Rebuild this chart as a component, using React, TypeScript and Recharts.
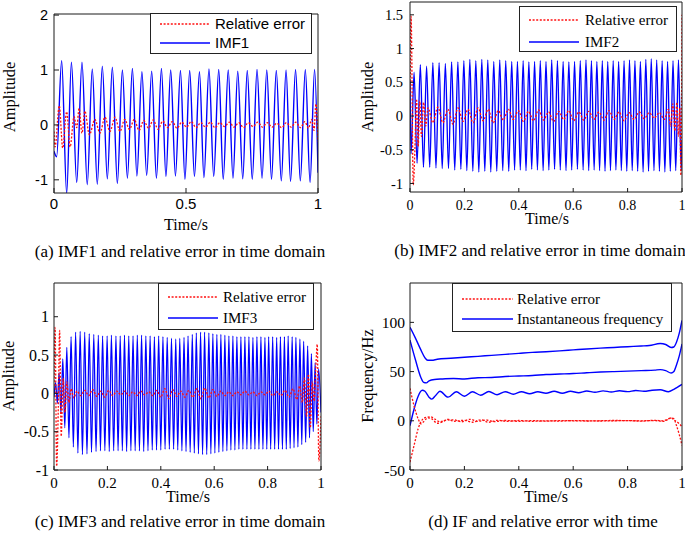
import React from 'react';
import { LineChart, Line, XAxis, YAxis } from 'recharts';

const SERIF = '"Liberation Serif", "Times New Roman", serif';
const SANS = '"Liberation Sans", Arial, sans-serif';
const BLUE = '#0000ff';
const RED = '#ff1010';

type P = [number, number];

// ---------- Panel (a): IMF1 ----------
const imf1Peaks: P[] = [
  [0.029, 1.17], [0.066, 1.14], [0.106, 1.14], [0.145, 1.02], [0.183, 1.07], [0.221, 1.05],
  [0.259, 1.0], [0.297, 1.03], [0.333, 0.97], [0.37, 0.98], [0.407, 1.03], [0.442, 1.0],
  [0.479, 0.99], [0.514, 0.99], [0.551, 0.97], [0.587, 1.02], [0.624, 1.01], [0.66, 1.0],
  [0.696, 0.98], [0.732, 0.99], [0.769, 1.01], [0.806, 1.0], [0.842, 0.99], [0.879, 1.0],
  [0.915, 1.01], [0.952, 1.01], [0.987, 1.01],
];
const imf1Troughs: P[] = [
  [0, -0.48], [0.01, -0.58], [0.048, -1.25], [0.086, -1.05], [0.126, -1.09], [0.164, -1.08],
  [0.202, -0.98], [0.24, -1.07], [0.278, -0.97], [0.314, -0.93], [0.351, -0.92], [0.388, -0.97],
  [0.424, -0.94], [0.46, -0.93], [0.496, -0.99], [0.532, -0.94], [0.568, -0.96], [0.605, -0.94],
  [0.641, -0.99], [0.678, -0.97], [0.715, -0.98], [0.751, -0.99], [0.788, -0.97], [0.824, -0.99],
  [0.861, -1.02], [0.896, -1.03], [0.933, -1.02], [0.97, -1.05], [1.0, -0.87],
];
const err1Points: P[] = [
  [0, -0.12], [0.004, -0.4], [0.02, 0.35], [0.033, -0.42], [0.048, 0.24], [0.061, -0.4],
  [0.076, 0.15], [0.086, -0.05], [0.095, 0.3], [0.106, -0.15], [0.117, 0.25], [0.134, -0.18],
  [0.155, 0.1], [0.174, -0.15], [0.193, 0.14], [0.212, -0.12], [0.231, 0.14], [0.25, -0.12],
  [0.268, 0.1], [0.286, -0.08], [0.304, 0.1], [0.322, -0.1], [0.34, 0.08], [0.358, -0.06],
  [0.376, 0.09], [0.394, -0.08], [0.412, 0.07], [0.43, -0.05], [0.448, 0.06], [0.466, -0.06],
  [0.484, 0.05], [0.502, -0.04], [0.52, 0.06], [0.538, -0.05], [0.556, 0.04], [0.574, -0.04],
  [0.592, 0.05], [0.61, -0.05], [0.628, 0.04], [0.646, -0.03], [0.664, 0.05], [0.682, -0.04],
  [0.7, 0.04], [0.718, -0.05], [0.736, 0.04], [0.754, -0.03], [0.772, 0.05], [0.79, -0.04],
  [0.808, 0.04], [0.826, -0.04], [0.844, 0.03], [0.862, -0.05], [0.88, 0.04], [0.898, -0.04],
  [0.916, 0.05], [0.934, -0.05], [0.95, 0.06], [0.964, -0.06], [0.976, 0.1], [0.985, -0.1],
  [0.992, 0.38], [1.0, -0.3],
];

// ---------- Panel (b): IMF2 ----------
const imf2Peaks: P[] = [
  [0, 0.52], [0.015, 0.65], [0.038, 0.76], [0.061, 0.74], [0.084, 0.79], [0.107, 0.79], [0.13, 0.78],
  [0.153, 0.8], [0.176, 0.8], [0.198, 0.82], [0.22, 0.84], [0.242, 0.82], [0.264, 0.84],
  [0.286, 0.83], [0.308, 0.81], [0.33, 0.83], [0.352, 0.82], [0.374, 0.81], [0.395, 0.81],
  [0.416, 0.82], [0.437, 0.8], [0.458, 0.81], [0.479, 0.82], [0.5, 0.81], [0.521, 0.83],
  [0.542, 0.82], [0.563, 0.81], [0.584, 0.8], [0.605, 0.81], [0.626, 0.82], [0.647, 0.83],
  [0.667, 0.82], [0.687, 0.81], [0.707, 0.82], [0.727, 0.81], [0.747, 0.82], [0.767, 0.81],
  [0.787, 0.82], [0.807, 0.83], [0.827, 0.82], [0.847, 0.81], [0.867, 0.84], [0.887, 0.85],
  [0.907, 0.83], [0.927, 0.82], [0.947, 0.81], [0.967, 0.82], [0.987, 0.83],
];
const imf2Troughs: P[] = [
  [0.004, -0.56], [0.026, -0.7], [0.0495, -0.76], [0.0725, -0.76], [0.0955, -0.77], [0.1185, -0.78],
  [0.1415, -0.78], [0.1645, -0.8], [0.187, -0.79], [0.209, -0.81], [0.231, -0.82], [0.253, -0.83],
  [0.275, -0.82], [0.297, -0.83], [0.319, -0.82], [0.341, -0.81], [0.363, -0.82], [0.3845, -0.8],
  [0.4055, -0.8], [0.4265, -0.81], [0.4475, -0.79], [0.4685, -0.8], [0.4895, -0.81], [0.5105, -0.8],
  [0.5315, -0.79], [0.5525, -0.8], [0.5735, -0.81], [0.5945, -0.8], [0.6155, -0.79], [0.6365, -0.8],
  [0.657, -0.81], [0.677, -0.8], [0.697, -0.81], [0.717, -0.82], [0.737, -0.81], [0.757, -0.8],
  [0.777, -0.81], [0.797, -0.82], [0.817, -0.81], [0.837, -0.82], [0.857, -0.83], [0.877, -0.82],
  [0.897, -0.81], [0.917, -0.82], [0.937, -0.83], [0.957, -0.82], [0.977, -0.81], [0.997, -0.8],
  [1.0, -0.35],
];
const err2Points: P[] = [
  [0, 0.3], [0.004, 1.48], [0.012, -1.02], [0.018, -0.5], [0.024, 0.25], [0.03, -0.45],
  [0.036, 0.22], [0.042, -0.3], [0.05, 0.2], [0.058, -0.15], [0.066, 0.12], [0.084, -0.1],
  [0.1025, 0.13], [0.121, -0.1], [0.1395, 0.1], [0.158, -0.12], [0.1765, 0.12], [0.195, -0.08],
  [0.2135, 0.1], [0.232, -0.1], [0.2505, 0.12], [0.269, -0.07], [0.2875, 0.1], [0.306, -0.1],
  [0.3245, 0.08], [0.343, -0.06], [0.3615, 0.1], [0.38, -0.05], [0.3985, 0.08], [0.417, -0.08],
  [0.4355, 0.07], [0.454, -0.07], [0.4725, 0.09], [0.491, -0.06], [0.5095, 0.06], [0.528, -0.08],
  [0.5465, 0.07], [0.565, -0.05], [0.5835, 0.08], [0.602, -0.07], [0.6205, 0.06], [0.639, -0.06],
  [0.6575, 0.07], [0.676, -0.05], [0.6945, 0.06], [0.713, -0.06], [0.7315, 0.08], [0.75, -0.05],
  [0.7685, 0.06], [0.787, -0.07], [0.8055, 0.05], [0.824, -0.05], [0.8425, 0.06], [0.861, -0.04],
  [0.8795, 0.05], [0.898, -0.03], [0.9165, 0.05], [0.935, -0.05], [0.95, 0.1], [0.958, -0.15],
  [0.966, 0.18], [0.974, -0.22], [0.981, 0.2], [0.987, -0.3], [0.992, 0.12], [0.996, -0.88],
  [1.0, 1.5],
];

// ---------- Panel (c): IMF3 ----------
const imf3Peaks: P[] = [
  [0, -0.05], [0.006, 0.14], [0.019, 0.27], [0.033, 0.45], [0.048, 0.6], [0.064, 0.74], [0.081, 0.8],
  [0.098, 0.81], [0.115, 0.8], [0.132, 0.78], [0.149, 0.77], [0.166, 0.76], [0.182, 0.75],
  [0.199, 0.75], [0.215, 0.76], [0.232, 0.75], [0.248, 0.75], [0.264, 0.76], [0.28, 0.75],
  [0.296, 0.75], [0.312, 0.76], [0.328, 0.76], [0.344, 0.75], [0.36, 0.75], [0.376, 0.74],
  [0.392, 0.75], [0.408, 0.74], [0.424, 0.73], [0.44, 0.72], [0.456, 0.71], [0.471, 0.72],
  [0.487, 0.73], [0.502, 0.75], [0.518, 0.77], [0.533, 0.79], [0.549, 0.8], [0.564, 0.8],
  [0.58, 0.79], [0.595, 0.78], [0.61, 0.77], [0.625, 0.77], [0.64, 0.76], [0.655, 0.75],
  [0.67, 0.75], [0.685, 0.74], [0.7, 0.74], [0.715, 0.74], [0.73, 0.74], [0.745, 0.73],
  [0.76, 0.74], [0.775, 0.74], [0.79, 0.73], [0.804, 0.74], [0.819, 0.74], [0.834, 0.73],
  [0.848, 0.74], [0.863, 0.74], [0.877, 0.75], [0.892, 0.74], [0.906, 0.73], [0.921, 0.71],
  [0.935, 0.68], [0.95, 0.62], [0.964, 0.52], [0.978, 0.4], [0.991, 0.32],
];
const imf3Troughs: P[] = [
  [0.0125, -0.13], [0.026, -0.26], [0.0405, -0.45], [0.056, -0.58], [0.0725, -0.7], [0.0895, -0.78],
  [0.1065, -0.8], [0.1235, -0.79], [0.1405, -0.77], [0.1575, -0.76], [0.174, -0.75], [0.1905, -0.75],
  [0.207, -0.76], [0.2235, -0.75], [0.24, -0.75], [0.256, -0.75], [0.272, -0.76], [0.288, -0.75],
  [0.304, -0.75], [0.32, -0.75], [0.336, -0.76], [0.352, -0.75], [0.368, -0.74], [0.384, -0.74],
  [0.4, -0.74], [0.416, -0.73], [0.432, -0.73], [0.448, -0.73], [0.4635, -0.74], [0.479, -0.75],
  [0.4945, -0.76], [0.51, -0.77], [0.5255, -0.78], [0.541, -0.79], [0.5565, -0.8], [0.572, -0.8],
  [0.5875, -0.79], [0.6025, -0.78], [0.6175, -0.77], [0.6325, -0.76], [0.6475, -0.75], [0.6625, -0.74],
  [0.6775, -0.74], [0.6925, -0.73], [0.7075, -0.73], [0.7225, -0.73], [0.7375, -0.73], [0.7525, -0.73],
  [0.7675, -0.73], [0.7825, -0.73], [0.797, -0.73], [0.8115, -0.73], [0.8265, -0.73], [0.841, -0.73],
  [0.8555, -0.73], [0.87, -0.73], [0.8845, -0.72], [0.899, -0.71], [0.9135, -0.7], [0.928, -0.67],
  [0.9425, -0.64], [0.957, -0.58], [0.971, -0.5], [0.9845, -0.4], [1.0, -0.25],
];
const err3Points: P[] = [
  [0, 0.1], [0.004, 0.86], [0.01, -0.95], [0.016, -0.2], [0.021, 0.82], [0.027, -0.56],
  [0.034, 0.2], [0.041, -0.25], [0.048, 0.15], [0.056, -0.12], [0.064, 0.06], [0.074, -0.06],
  [0.086, 0.03], [0.1, -0.03], [0.115, 0.04], [0.13, -0.03], [0.145, 0.05], [0.16, -0.04],
  [0.175, 0.03], [0.19, -0.05], [0.205, 0.04], [0.22, -0.03], [0.235, 0.03], [0.25, -0.02],
  [0.265, 0.03], [0.28, -0.03], [0.295, 0.02], [0.31, -0.03], [0.325, 0.03], [0.34, -0.02],
  [0.355, 0.02], [0.37, -0.03], [0.385, 0.04], [0.4, -0.05], [0.415, 0.06], [0.43, -0.07],
  [0.445, 0.05], [0.46, -0.04], [0.475, 0.03], [0.49, -0.05], [0.505, 0.04], [0.52, -0.05],
  [0.535, 0.06], [0.55, -0.07], [0.565, 0.07], [0.58, -0.06], [0.595, 0.05], [0.61, -0.04],
  [0.625, 0.03], [0.64, -0.03], [0.655, 0.02], [0.67, -0.03], [0.685, 0.02], [0.7, -0.02],
  [0.715, 0.03], [0.73, -0.02], [0.745, 0.02], [0.76, -0.03], [0.775, 0.02], [0.79, -0.02],
  [0.805, 0.03], [0.82, -0.03], [0.835, 0.02], [0.85, -0.03], [0.865, 0.04], [0.88, -0.05],
  [0.895, 0.06], [0.91, -0.08], [0.92, 0.1], [0.93, -0.12], [0.938, 0.2], [0.946, -0.3],
  [0.953, 0.25], [0.96, -0.45], [0.967, 0.15], [0.974, -0.1], [0.98, 0.3], [0.986, 0.64],
  [0.992, -0.88], [1.0, -0.3],
];

// ---------- Panel (d): instantaneous frequency ----------
const ifHigh: P[] = [
  [0, 95], [0.02, 84], [0.04, 72], [0.055, 64], [0.065, 61.5], [0.08, 61.5], [0.1, 62.5],
  [0.15, 63.5], [0.2, 64.5], [0.25, 65.5], [0.3, 66.5], [0.35, 67.5], [0.4, 68.5], [0.45, 69.5],
  [0.5, 70.2], [0.55, 71], [0.6, 72], [0.65, 73], [0.7, 73.8], [0.75, 74.5], [0.8, 75.3],
  [0.85, 76], [0.88, 76.5], [0.92, 78.5], [0.94, 77.5], [0.96, 74.5], [0.97, 75], [0.98, 80],
  [0.99, 89], [1.0, 102],
];
const ifMid: P[] = [
  [0, 82], [0.02, 62], [0.04, 44], [0.05, 39], [0.06, 38.5], [0.07, 40.5], [0.09, 42],
  [0.12, 42.5], [0.16, 43], [0.2, 42.5], [0.25, 43.8], [0.3, 44], [0.35, 45], [0.4, 45.5],
  [0.45, 46], [0.5, 47], [0.55, 47.5], [0.6, 48], [0.65, 48.8], [0.7, 49.5], [0.75, 50],
  [0.8, 50.5], [0.85, 51], [0.9, 51.5], [0.92, 52], [0.94, 51], [0.96, 48.5], [0.97, 50],
  [0.98, 57], [0.99, 66], [1.0, 78],
];
const ifLow: P[] = [
  [0, -5], [0.015, 12], [0.03, 25], [0.045, 31], [0.055, 30], [0.07, 24], [0.08, 22],
  [0.095, 26], [0.11, 30], [0.14, 24], [0.17, 29.5], [0.2, 25], [0.23, 29.5], [0.26, 26],
  [0.29, 29.8], [0.32, 26.5], [0.35, 29.5], [0.38, 27], [0.41, 29.5], [0.44, 27.5], [0.47, 29.5],
  [0.5, 28], [0.53, 30], [0.56, 28], [0.59, 30], [0.62, 28.5], [0.65, 30.2], [0.68, 29],
  [0.71, 30.4], [0.74, 29.3], [0.77, 30.5], [0.8, 29.6], [0.83, 30.8], [0.86, 30], [0.89, 31],
  [0.92, 31.5], [0.95, 29.5], [0.97, 32], [1.0, 37],
];
const ifErrA: P[] = [
  [0, 33], [0.015, 15], [0.03, 2], [0.04, -3], [0.05, -1], [0.065, 3], [0.08, 2], [0.1, -2.5],
  [0.12, -1], [0.14, 1.5], [0.16, -0.5], [0.2, 0.5], [0.23, -1.5], [0.26, 1], [0.29, -1.5],
  [0.32, 0.5], [0.36, -0.5], [0.4, 0.3], [0.45, -0.5], [0.5, 0], [0.55, -0.3], [0.6, 0.2],
  [0.7, -0.2], [0.8, 0.2], [0.85, -0.3], [0.9, 0.5], [0.93, 0], [0.95, 2], [0.96, 3], [0.97, 1],
  [0.99, -3], [1.0, -6],
];
const ifErrB: P[] = [
  [0, -42], [0.015, -25], [0.03, -8], [0.045, 1], [0.06, 3.5], [0.075, 4], [0.09, 2], [0.11, -1],
  [0.13, 0.5], [0.16, 1], [0.19, -1], [0.22, 1.5], [0.25, -0.5], [0.28, 0.8], [0.31, -0.8],
  [0.35, 0.3], [0.4, -0.5], [0.45, 0.2], [0.5, -0.3], [0.55, 0.2], [0.65, -0.2], [0.75, 0.3],
  [0.85, 0], [0.9, 0.2], [0.93, -0.5], [0.95, 1.5], [0.96, 3], [0.97, 2], [0.98, -5], [0.99, -14],
  [1.0, -25],
];

const xTicksA = [0, 0.5, 1];
const xTicks = [0, 0.2, 0.4, 0.6, 0.8, 1];
const yTicksA = [-1, 0, 1, 2];
const yTicksBC = [-1, -0.5, 0, 0.5, 1, 1.5];
const yTicksC = [-1, -0.5, 0, 0.5, 1];
const yTicksD = [-50, 0, 50, 100];

const toRows = (...lists: P[][]) =>
  lists.flat().slice().sort((a, b) => a[0] - b[0]).map(([t, v]) => ({ t, v }));

type Series = { data: { t: number; v: number }[]; color: string; width: number; dash?: string };

type PanelProps = {
  x: number; y: number; w: number; h: number;
  m: { top: number; right: number; bottom: number; left: number };
  topH: number; leftW: number; rightW: number; bottomH: number;
  xt: number[]; yt: number[]; yDomain: [number, number];
  font: string; fsX: number; fsY: number; xTM: number; yTM: number; tickLen: number;
  series: Series[];
};

function Panel(p: PanelProps) {
  const tickStyleX = { fill: '#000', fontSize: p.fsX, fontFamily: p.font };
  const tickStyleY = { fill: '#000', fontSize: p.fsY, fontFamily: p.font };
  return (
    <div style={{ position: 'absolute', left: p.x, top: p.y, width: p.w, height: p.h }}>
      <LineChart width={p.w} height={p.h} margin={p.m}>
        <XAxis xAxisId="b" type="number" dataKey="t" domain={[0, 1]} ticks={p.xt} interval={0}
          orientation="bottom" height={p.bottomH} tickSize={-p.tickLen} tickMargin={p.xTM}
          allowDataOverflow stroke="#1a1a1a" tick={tickStyleX} />
        <XAxis xAxisId="t" type="number" dataKey="t" domain={[0, 1]} ticks={p.xt} interval={0}
          orientation="top" height={p.topH} tickSize={-p.tickLen} tick={false}
          allowDataOverflow stroke="#1a1a1a" />
        <YAxis yAxisId="l" type="number" domain={p.yDomain} ticks={p.yt} interval={0}
          orientation="left" width={p.leftW} tickSize={-p.tickLen} tickMargin={p.yTM}
          allowDataOverflow stroke="#1a1a1a" tick={tickStyleY} />
        <YAxis yAxisId="r" type="number" domain={p.yDomain} ticks={p.yt} interval={0}
          orientation="right" width={p.rightW} tickSize={-p.tickLen} tick={false}
          allowDataOverflow stroke="#1a1a1a" />
        {p.series.map((s, i) => (
          <Line key={i} xAxisId="b" yAxisId="l" data={s.data} dataKey="v" type="monotone"
            stroke={s.color} strokeWidth={s.width} strokeDasharray={s.dash}
            dot={false} activeDot={false} isAnimationActive={false} />
        ))}
      </LineChart>
    </div>
  );
}

type LegendProps = {
  x: number; y: number; w: number; h: number; rows: [number, number];
  lineX: [number, number]; textX: number; font: string; fs: number; labels: [string, string];
};

function LegendBox(l: LegendProps) {
  const row = (cy: number, label: string, color: string, dash?: string) => (
    <React.Fragment key={label}>
      <svg style={{ position: 'absolute', left: l.lineX[0] - l.x, top: cy - l.y - 3 }} width={l.lineX[1] - l.lineX[0]} height={6}>
        <line x1={0} y1={3} x2={l.lineX[1] - l.lineX[0]} y2={3} stroke={color} strokeWidth={1.3} strokeDasharray={dash} />
      </svg>
      <div style={{ position: 'absolute', left: l.textX - l.x, top: cy - l.y - 10, height: 20, lineHeight: '20px', fontFamily: l.font, fontSize: l.fs, color: '#000', whiteSpace: 'nowrap' }}>
        {label}
      </div>
    </React.Fragment>
  );
  return (
    <div style={{ position: 'absolute', left: l.x, top: l.y, width: l.w, height: l.h, boxSizing: 'border-box', border: '1px solid #222', background: '#fff' }}>
      <div style={{ position: 'absolute', left: -1, top: -1 }}>
        {row(l.rows[0], l.labels[0], RED, '2 1.6')}
        {row(l.rows[1], l.labels[1], BLUE)}
      </div>
    </div>
  );
}

function Txt({ x, y, text, fs, rotate, font }: { x: number; y: number; text: string; fs: number; rotate?: boolean; font?: string }) {
  return (
    <div style={{
      position: 'absolute', left: x, top: y, whiteSpace: 'nowrap', fontFamily: font || SERIF, fontSize: fs,
      color: '#000', lineHeight: 1, transform: `translate(-50%, -50%)${rotate ? ' rotate(-90deg)' : ''}`,
    }}>{text}</div>
  );
}

export default function App() {
  const dataA1 = toRows(imf1Peaks, imf1Troughs);
  const dataA2 = toRows(err1Points);
  const dataB1 = toRows(imf2Peaks, imf2Troughs);
  const dataB2 = toRows(err2Points);
  const dataC1 = toRows(imf3Peaks, imf3Troughs);
  const dataC2 = toRows(err3Points);
  const dHigh = toRows(ifHigh);
  const dMid = toRows(ifMid);
  const dLow = toRows(ifLow);
  const dEA = toRows(ifErrA);
  const dEB = toRows(ifErrB);

  return (
    <div style={{ position: 'absolute', left: 0, top: 0, width: 685, height: 535, background: '#fff', overflow: 'hidden' }}>
      <Panel x={0} y={0} w={340} h={260} m={{ top: 4, right: 2, bottom: 2, left: 4 }}
        topH={10} leftW={50} rightW={20} bottomH={65}
        xt={xTicksA} yt={yTicksA} yDomain={[-1.24, 2.02]} font={SANS} fsX={15} fsY={14.5}
        xTM={10} yTM={11} tickLen={5}
        series={[
          { data: dataA1, color: BLUE, width: 1.4 },
          { data: dataA2, color: RED, width: 1.3, dash: '2 1.6' },
        ]} />
      <Panel x={340} y={0} w={345} h={260} m={{ top: 0, right: 1, bottom: 2, left: 4 }}
        topH={2} leftW={66} rightW={2} bottomH={66}
        xt={xTicks} yt={yTicksBC} yDomain={[-1.126, 1.69]} font={SERIF} fsX={14} fsY={14.5}
        xTM={12} yTM={11} tickLen={4}
        series={[
          { data: dataB1, color: BLUE, width: 1.35 },
          { data: dataB2, color: RED, width: 1.3, dash: '2 1.6' },
        ]} />
      <Panel x={0} y={260} w={340} h={275} m={{ top: 3, right: 2, bottom: 2, left: 4 }}
        topH={20} leftW={50} rightW={17} bottomH={63}
        xt={xTicks} yt={yTicksC} yDomain={[-1, 1.44]} font={SERIF} fsX={15} fsY={16}
        xTM={11} yTM={9} tickLen={4}
        series={[
          { data: dataC1, color: BLUE, width: 1.25 },
          { data: dataC2, color: RED, width: 1.3, dash: '2 1.6' },
        ]} />
      <Panel x={340} y={260} w={345} h={275} m={{ top: 3, right: 1, bottom: 2, left: 4 }}
        topH={20} leftW={66} rightW={2} bottomH={63}
        xt={xTicks} yt={yTicksD} yDomain={[-50, 140]} font={SERIF} fsX={15} fsY={15.5}
        xTM={11} yTM={9} tickLen={4}
        series={[
          { data: dHigh, color: BLUE, width: 1.4 },
          { data: dMid, color: BLUE, width: 1.4 },
          { data: dLow, color: BLUE, width: 1.4 },
          { data: dEA, color: RED, width: 1.3, dash: '2 1.6' },
          { data: dEB, color: RED, width: 1.3, dash: '2 1.6' },
        ]} />

      <LegendBox x={150} y={13} w={162} h={41} rows={[24, 43]} lineX={[160, 210]} textX={215}
        font={SANS} fs={15} labels={['Relative error', 'IMF1']} />
      <LegendBox x={519} y={6} w={158} h={46} rows={[20, 42]} lineX={[529, 579]} textX={585}
        font={SERIF} fs={15} labels={['Relative error', 'IMF2']} />
      <LegendBox x={158} y={283} w={156} h={47} rows={[297, 318]} lineX={[168, 218]} textX={223}
        font={SERIF} fs={15} labels={['Relative error', 'IMF3']} />
      <LegendBox x={452} y={283} w={220} h={49} rows={[299, 319]} lineX={[462, 513]} textX={517}
        font={SERIF} fs={15} labels={['Relative error', 'Instantaneous frequency']} />

      <Txt x={10} y={97} text="Amplitude" fs={16.5} rotate />
      <Txt x={186} y={225} text="Time/s" fs={16} />
      <Txt x={180} y={251} text="(a) IMF1 and relative error in time domain" fs={17} />

      <Txt x={368} y={97} text="Amplitude" fs={16.5} rotate />
      <Txt x={547} y={219} text="Time/s" fs={16} />
      <Txt x={540} y={250} text="(b) IMF2 and relative error in time domain" fs={17} />

      <Txt x={9} y={376} text="Amplitude" fs={16.5} rotate />
      <Txt x={188} y={497} text="Time/s" fs={16} />
      <Txt x={180} y={521} text="(c) IMF3 and relative error in time domain" fs={17} />

      <Txt x={368} y={376} text="Frequency/Hz" fs={16.5} rotate />
      <Txt x={546} y={497} text="Time/s" fs={16} />
      <Txt x={543} y={521} text="(d) IF and relative error with time" fs={17} />
    </div>
  );
}
